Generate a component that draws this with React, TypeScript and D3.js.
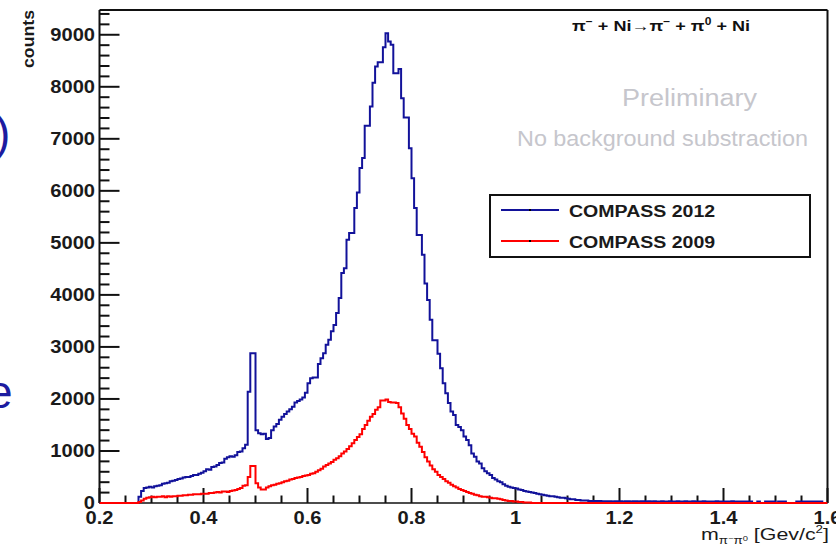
import React from 'react';
import * as d3 from 'd3';

// Histogram binning (GeV/c^2)
const binStart = 0.2;
const binWidth = 0.005;

// COMPASS 2012 counts per 0.005 bin, from 0.200 to 1.595 (rows of 10 bins = 0.05)
const compass2012 = [
  0, 0, 0, 0, 0, 0, 0, 0, 0, 0,
  0, 0, 0, 0, 0, 120, 230, 290, 300, 310,
  300, 320, 330, 340, 370, 380, 390, 420, 430, 440,
  460, 470, 490, 500, 500, 520, 540, 540, 560, 580,
  610, 650, 640, 690, 700, 730, 770, 780, 850, 880,
  900, 890, 920, 980, 990, 1050, 1120, 2140, 2880, 2880,
  1400, 1340, 1320, 1330, 1230, 1250, 1400, 1470, 1520, 1600,
  1660, 1710, 1760, 1800, 1850, 1930, 1960, 1990, 2030, 2120,
  2300, 2400, 2410, 2410, 2670, 2780, 2880, 3040, 3140, 3300,
  3420, 3650, 3940, 4420, 4510, 5060, 5190, 5190, 5670, 5970,
  6440, 6630, 7250, 7250, 7620, 8080, 8390, 8470, 8470, 8760,
  9030, 8870, 8810, 8260, 8260, 8340, 7780, 7410, 7410, 6820,
  6240, 5670, 5150, 5150, 4770, 4220, 3900, 3520, 3130, 3130,
  2870, 2590, 2300, 2110, 1920, 1760, 1690, 1500, 1460, 1400,
  1280, 1210, 1110, 950, 890, 800, 760, 670, 610, 570,
  540, 480, 450, 420, 400, 360, 330, 310, 300, 290,
  280, 260, 250, 230, 220, 210, 200, 190, 180, 170,
  160, 150, 140, 130, 130, 120, 110, 100, 100, 90,
  80, 70, 70, 60, 60, 50, 50, 50, 40, 40,
  40, 40, 40, 35, 35, 35, 35, 30, 35, 35,
  35, 30, 35, 35, 30, 35, 35, 30, 35, 35,
  30, 35, 30, 35, 30, 30, 35, 30, 30, 35,
  30, 30, 35, 30, 30, 35, 30, 30, 35, 30,
  30, 30, 35, 30, 30, 30, 30, 35, 30, 30,
  30, 30, 30, 35, 30, 30, 30, 30, 30, 30,
  30, 0, 0, 30, 0, 0, 30, 30, 30, 30,
  0, 30, 30, 30, 0, 0, 0, 0, 30, 30,
  30, 30, 30, 30, 30, 30, 30, 30, 0, 0,
];

// COMPASS 2009 counts per 0.005 bin
const compass2009 = [
  0, 0, 0, 0, 0, 0, 0, 0, 0, 0,
  0, 0, 0, 0, 0, 20, 50, 80, 100, 110,
  120, 110, 120, 120, 130, 110, 130, 120, 130, 130,
  140, 140, 150, 150, 160, 160, 170, 170, 170, 180,
  180, 180, 190, 190, 200, 210, 200, 220, 220, 210,
  230, 240, 250, 270, 290, 330, 340, 500, 710, 710,
  380, 300, 260, 260, 300, 320, 340, 350, 370, 380,
  400, 420, 430, 450, 460, 480, 490, 500, 520, 530,
  540, 560, 570, 600, 630, 660, 700, 730, 760, 790,
  830, 860, 900, 950, 990, 1040, 1090, 1150, 1210, 1270,
  1320, 1420, 1500, 1580, 1660, 1710, 1790, 1840, 1970, 1970,
  1990, 1940, 1930, 1930, 1920, 1840, 1720, 1620, 1500, 1420,
  1330, 1280, 1160, 1080, 980, 880, 800, 720, 650, 600,
  540, 500, 460, 420, 390, 350, 320, 300, 270, 250,
  230, 210, 190, 180, 160, 150, 130, 120, 120, 110,
  100, 90, 90, 80, 70, 60, 50, 40, 40, 30,
  30, 20, 20, 10, 10, 10, 0, 0, 0, 0,
  0, 0, 0, 0, 0, 0, 0, 0, 0, 0,
  0, 0, 0, 0, 0, 0, 0, 0, 0, 0,
  0, 0, 0, 0, 0, 0, 0, 0, 0, 0,
  0, 0, 0, 0, 0, 0, 0, 0, 0, 0,
  0, 0, 0, 0, 0, 0, 0, 0, 0, 0,
  0, 0, 0, 0, 0, 0, 0, 0, 0, 0,
  0, 0, 0, 0, 0, 0, 0, 0, 0, 0,
  0, 0, 0, 0, 0, 0, 0, 0, 0, 0,
  0, 0, 0, 0, 0, 0, 0, 0, 0, 0,
  0, 0, 0, 0, 0, 0, 0, 0, 0, 0,
  0, 0, 0, 0, 0, 0, 0, 0, 0, 0,
];

const seriesNames = ['COMPASS 2012', 'COMPASS 2009'];
const seriesColors = ['#12129a', '#ff0000'];

const xTickValues = [0.2, 0.4, 0.6, 0.8, 1.0, 1.2, 1.4, 1.6];
const xTickLabels = ['0.2', '0.4', '0.6', '0.8', '1', '1.2', '1.4', '1.6'];
const yTickValues = [0, 1000, 2000, 3000, 4000, 5000, 6000, 7000, 8000, 9000];
const yTickLabels = ['0', '1000', '2000', '3000', '4000', '5000', '6000', '7000', '8000', '9000'];

const FONT = '"Liberation Sans", Arial, Helvetica, sans-serif';
const SX = 1.15;

function ST(props: any) {
  const { x, y, anchor = 'start', size = 17, weight = 'bold', fill = '#1a1a1a', children } = props;
  return (
    <text
      transform={`translate(${x},${y}) scale(${SX},1)`}
      textAnchor={anchor}
      fontSize={size}
      fontWeight={weight}
      fill={fill}
      fontFamily={FONT}
    >
      {children}
    </text>
  );
}

export default function App() {
  const W = 836;
  const H = 551;
  const L = 99.5;
  const R = 827.5;
  const T = 10;
  const B = 503;

  const x = d3.scaleLinear().domain([0.2, 1.6]).range([L, R]);
  const y = d3.scaleLinear().domain([0, 9476]).range([B, T]);

  const histPath = (vals: number[]) => {
    const pts: [number, number][] = vals.map((v, i) => [binStart + i * binWidth, v]);
    pts.push([binStart + vals.length * binWidth, vals[vals.length - 1]]);
    return d3
      .line<[number, number]>()
      .x((d) => x(d[0]))
      .y((d) => y(d[1]))
      .curve(d3.curveStepAfter)(pts) as string;
  };

  const yMinor = d3.range(0, 9476, 200).filter((v) => v % 1000 !== 0);
  const xMinor = d3.range(0, 29).map((i) => 0.2 + i * 0.05).filter((_, i) => i % 4 !== 0);

  return (
    <svg
      width={W}
      height={H}
      style={{ position: 'absolute', left: 0, top: 0, background: '#fff' }}
      fontFamily={FONT}
    >
      <rect x={0} y={0} width={W} height={H} fill="#fff" />
      <defs>
        <clipPath id="plotclip">
          <rect x={L} y={T} width={R - L} height={B - T + 2} />
        </clipPath>
      </defs>

      {/* slide remnants at left edge */}
      <text x={-5} y={149} fontSize={46} fill="#1c1ca0" fontFamily={FONT}>)</text>
      <text x={-13} y={408} fontSize={46} fill="#1c1ca0" fontFamily={FONT}>e</text>

      {/* frame */}
      <line x1={L} x2={R} y1={T} y2={T} stroke="#111" strokeWidth={2} />
      <line x1={R} x2={R} y1={T} y2={B} stroke="#111" strokeWidth={2} />
      <line x1={L} x2={L} y1={T} y2={B} stroke="#111" strokeWidth={2} />
      <line x1={L} x2={R} y1={B} y2={B} stroke="#111" strokeWidth={1.5} />

      {/* y ticks */}
      {yTickValues.map((v) => (
        <line key={'ym' + v} x1={L} x2={L + 20} y1={y(v)} y2={y(v)} stroke="#111" strokeWidth={2} />
      ))}
      {yMinor.map((v) => (
        <line key={'yn' + v} x1={L} x2={L + 10} y1={y(v)} y2={y(v)} stroke="#111" strokeWidth={2} />
      ))}

      {/* x ticks */}
      {xTickValues.map((v) => (
        <line key={'xm' + v} x1={x(v)} x2={x(v)} y1={B} y2={B - 15} stroke="#111" strokeWidth={2} />
      ))}
      {xMinor.map((v) => (
        <line key={'xn' + v} x1={x(v)} x2={x(v)} y1={B} y2={B - 7.5} stroke="#111" strokeWidth={2} />
      ))}

      {/* histograms drawn over the axes, 2009 on top */}
      <g clipPath="url(#plotclip)" fill="none" strokeWidth={2}>
        <path d={histPath(compass2012)} stroke={seriesColors[0]} />
        <path d={histPath(compass2009)} stroke={seriesColors[1]} />
      </g>

      {/* tick labels */}
      {yTickValues.map((v, i) => (
        <ST key={'yl' + v} x={95} y={y(v) + 6} anchor="end" size={17.5}>
          {yTickLabels[i]}
        </ST>
      ))}
      {xTickValues.map((v, i) => (
        <ST key={'xl' + v} x={x(v)} y={524} anchor="middle" size={17.5}>
          {xTickLabels[i]}
        </ST>
      ))}

      {/* axis titles */}
      <text
        transform="translate(34,10) rotate(-90)"
        textAnchor="end"
        fontSize={17}
        fontWeight="bold"
        fill="#1a1a1a"
        textLength={58}
        lengthAdjust="spacingAndGlyphs"
      >
        counts
      </text>
      <text x={829} y={540} textAnchor="end" fontSize={16} fill="#1a1a1a" textLength={128} lengthAdjust="spacingAndGlyphs">
        m
        <tspan fontSize={10} dy={4}>π</tspan>
        <tspan fontSize={7} dy={-3}>−</tspan>
        <tspan fontSize={10} dy={3}>π</tspan>
        <tspan fontSize={7} dy={-3}>0</tspan>
        <tspan fontSize={16} dy={-1}> [Gev/c</tspan>
        <tspan fontSize={10} dy={-7}>2</tspan>
        <tspan fontSize={16} dy={7}>]</tspan>
      </text>

      {/* reaction label */}
      <text x={572} y={31} fontSize={15} fontWeight="bold" fill="#111" textLength={178} lengthAdjust="spacingAndGlyphs">
        π<tspan fontSize={10} dy={-6}>−</tspan>
        <tspan dy={6}> + Ni→π</tspan>
        <tspan fontSize={10} dy={-6}>−</tspan>
        <tspan dy={6}> + π</tspan>
        <tspan fontSize={10} dy={-6}>0</tspan>
        <tspan dy={6}> + Ni</tspan>
      </text>

      <text x={622} y={106} fontSize={23} fill="#c6c6cc" textLength={135} lengthAdjust="spacingAndGlyphs">
        Preliminary
      </text>
      <text x={517} y={146} fontSize={22} fill="#c6c6cc" textLength={291} lengthAdjust="spacingAndGlyphs">
        No background substraction
      </text>

      {/* legend */}
      <rect x={490} y={195} width={320} height={62} fill="#fff" stroke="#111" strokeWidth={2} />
      {seriesNames.map((name, i) => {
        const ly = 210 + i * 31;
        return (
          <g key={name}>
            <line x1={501} x2={559} y1={ly} y2={ly} stroke={seriesColors[i]} strokeWidth={2} />
            <rect x={529} y={ly - 1} width={2} height={2} fill="#000" />
            <ST x={569} y={ly + 6.5} size={17}>
              {name}
            </ST>
          </g>
        );
      })}
    </svg>
  );
}
